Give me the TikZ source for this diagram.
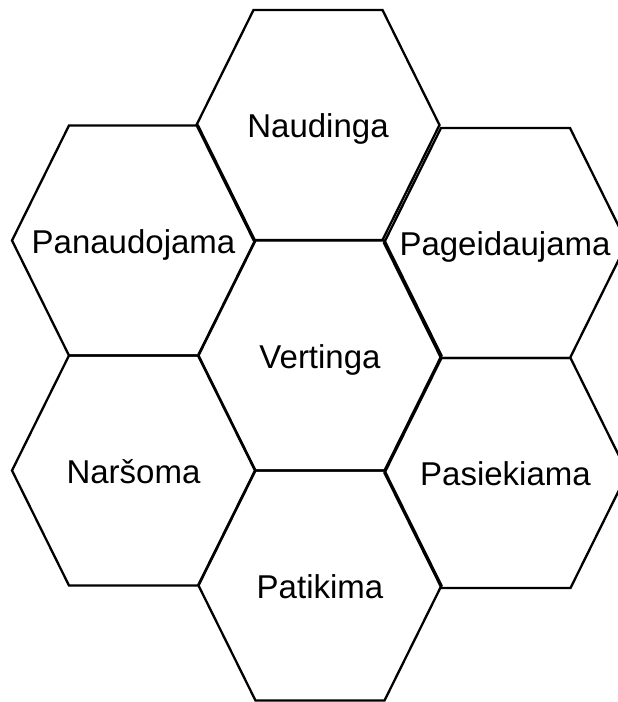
\documentclass[tikz,border=0pt]{standalone}
\usepackage{fontspec}
\setmainfont{Liberation Sans}
\begin{document}
\begin{tikzpicture}[x=1pt,y=-1pt,
  hexline/.style={draw=black,line width=2.3pt,line join=miter},
  lbl/.style={anchor=base,inner sep=0pt,font=\fontsize{33}{38}\selectfont}]
\useasboundingbox (0,0) rectangle (618,702);
\newcommand{\hexat}[2]{%
  \draw[hexline] (#1-121.5,#2) -- (#1-64.5,#2-115) -- (#1+64.5,#2-115) -- (#1+121.5,#2) -- (#1+64.5,#2+115) -- (#1-64.5,#2+115) -- cycle;}
\hexat{318}{125}
\hexat{320}{355.5}
\hexat{320}{585.5}
\hexat{133.5}{240.5}
\hexat{133.5}{470.5}
\hexat{505.5}{243}
\hexat{506}{473}
\node[lbl] (naudinga) at (318,137) {Naudinga};
\node[lbl] (vertinga) at (320,368) {Vertinga};
\node[lbl] (patikima) at (320,598) {Patikima};
\node[lbl] (panaudojama) at (133.5,253) {Panaudojama};
\node[lbl] (narsoma) at (133.5,483) {Naršoma};
\node[lbl] (pageidaujama) at (505,255) {Pageidaujama};
\node[lbl] (pasiekiama) at (505.5,485) {Pasiekiama};
\end{tikzpicture}
\end{document}
